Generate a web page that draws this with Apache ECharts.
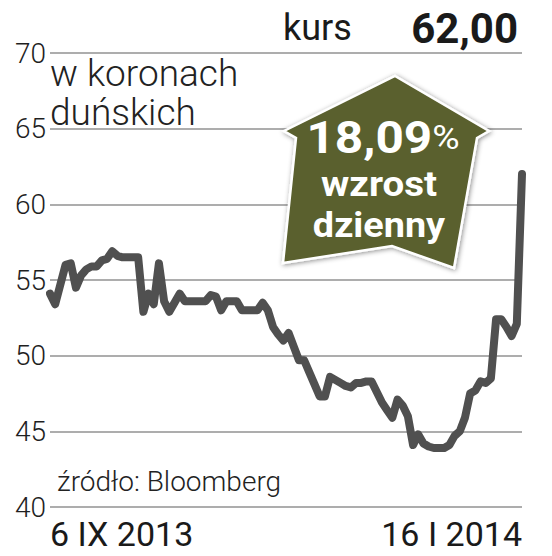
<!DOCTYPE html>
<html><head><meta charset="utf-8">
<script src="https://cdn.jsdelivr.net/npm/echarts@6/dist/echarts.min.js"></script>
<style>html,body{margin:0;padding:0;background:#fff}#c{width:552px;height:556px}</style>
</head><body><div id="c"></div>
<script>
// daily closing price (DKK), 6 IX 2013 – 16 I 2014
const prices = [
  54.1, 53.4, 54.7, 56.0, 56.1, 54.5, 55.3, 55.7, 55.9, 55.9,
  56.3, 56.4, 56.9, 56.6, 56.5, 56.5, 56.5, 56.5, 52.9, 54.1,
  53.4, 56.1, 53.6, 52.9, 53.5, 54.1, 53.6, 53.6, 53.6, 53.6,
  53.6, 54.0, 53.9, 53.0, 53.6, 53.6, 53.6, 53.0, 53.0, 53.0,
  53.0, 53.5, 53.0, 51.9, 51.4, 51.0, 51.5, 50.6, 49.7, 49.7,
  48.9, 48.1, 47.3, 47.3, 48.6, 48.4, 48.2, 48.0, 47.9, 48.2,
  48.2, 48.3, 48.3, 47.6, 46.9, 46.4, 45.9, 47.1, 46.7, 46.0,
  44.1, 44.8, 44.2, 44.0, 43.9, 43.9, 43.9, 44.1, 44.7, 45.0,
  45.9, 47.5, 47.7, 48.3, 48.2, 48.5, 52.4, 52.4, 51.9, 51.3,
  52.1, 62.0
];
const days = prices.map((_, i) => i);
const xLabels = ['6 IX 2013', '16 I 2014'];
const yMin = 40, yMax = 70, yStep = 5;
const unitNote = ['w koronach', 'duńskich'];
const sourceNote = 'źródło: Bloomberg';
const lastLabel = 'kurs';
const lastValue = '62,00';
const changeLines = ['18,09', '%', 'wzrost', 'dzienny'];

const FONT = 'Roboto, "Noto Sans", sans-serif';
const chart = echarts.init(document.getElementById('c'), null, {renderer: 'svg'});

chart.setOption({
  animation: false,
  backgroundColor: '#fff',
  grid: {left: 50, right: 30, top: 53, bottom: 49},
  xAxis: {
    type: 'category', data: days, boundaryGap: false,
    axisLine: {show: false}, axisTick: {show: false}, splitLine: {show: false},
    axisLabel: {
      interval: (i) => i === 0 || i === days.length - 1,
      formatter: (v, i) => (i === 0 ? xLabels[0] : xLabels[1]),
      alignMinLabel: 'left', alignMaxLabel: 'right',
      fontFamily: FONT, fontSize: 34, color: '#1a1a1a', margin: 10
    }
  },
  yAxis: {
    type: 'value', min: yMin, max: yMax, interval: yStep,
    axisLine: {show: false}, axisTick: {show: false},
    splitLine: {lineStyle: {color: '#adadad', width: 2}},
    axisLabel: {fontFamily: FONT, fontSize: 28, fontWeight: 300, color: '#1f1f1f', margin: 4}
  },
  series: [{
    type: 'line', data: prices, symbol: 'none', smooth: false,
    lineStyle: {color: '#505050', width: 8, cap: 'round', join: 'round'}
  }],
  graphic: [
    {type: 'text', left: 283, top: 10, style: {text: lastLabel, font: '400 36px ' + FONT, fill: '#1a1a1a'}},
    {type: 'text', right: 34, top: 7, style: {text: lastValue, font: 'bold 42px ' + FONT, fill: '#1a1a1a'}},
    {type: 'text', left: 50, top: 55, style: {text: unitNote[0], font: '300 37px ' + FONT, fill: '#222'}},
    {type: 'text', left: 50, top: 94, style: {text: unitNote[1], font: '300 37px ' + FONT, fill: '#222'}},
    {type: 'text', left: 57, top: 467, style: {text: sourceNote, font: '300 28px ' + FONT, fill: '#222'}},
    {
      type: 'polygon', z: 10,
      shape: {points: [[395, 76], [489, 131], [477, 138], [454, 268], [392, 246], [283, 263], [296, 138], [284, 131]]},
      style: {fill: '#5a602f', stroke: '#fff', lineWidth: 2.5, shadowBlur: 5, shadowColor: 'rgba(0,0,0,0.45)', shadowOffsetX: 1, shadowOffsetY: 1}
    },
    {type: 'text', z: 11, x: 383, y: 138, scaleX: 1.1, style: {
      text: '{a|' + changeLines[0] + '}{b|' + changeLines[1] + '}',
      align: 'center', verticalAlign: 'middle', fill: '#fff',
      rich: {a: {font: 'bold 45px ' + FONT, fill: '#fff'}, b: {font: '400 34px ' + FONT, fill: '#fff'}}}},
    {type: 'text', z: 11, x: 379, y: 184, scaleX: 1.1, style: {text: changeLines[2], align: 'center', verticalAlign: 'middle', font: 'bold 35px ' + FONT, fill: '#fff'}},
    {type: 'text', z: 11, x: 379, y: 225, scaleX: 1.08, style: {text: changeLines[3], align: 'center', verticalAlign: 'middle', font: 'bold 35px ' + FONT, fill: '#fff'}}
  ]
});
</script>
</body></html>
